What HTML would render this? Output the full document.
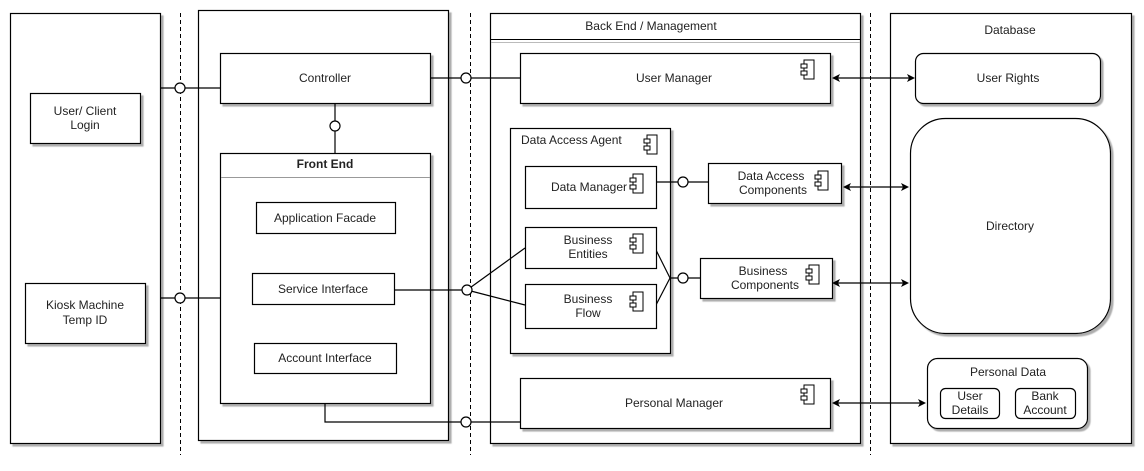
<!DOCTYPE html>
<html><head><meta charset="utf-8"><style>
html,body{margin:0;padding:0;background:#fff}
svg text{font-family:"Liberation Sans",Arial,sans-serif;font-size:12px;fill:#222}
</style></head><body>
<svg width="1144" height="466" viewBox="0 0 1144 466" xmlns="http://www.w3.org/2000/svg">
<defs>
<filter id="sh" x="-5%" y="-5%" width="110%" height="110%"><feDropShadow dx="2.5" dy="2.5" stdDeviation="0.6" flood-color="#999" flood-opacity="0.8"/></filter>
<g id="ic"><rect x="3" y="0" width="10" height="19" fill="#fff" stroke="#000"/><rect x="0" y="4" width="6" height="4" fill="#fff" stroke="#000"/><rect x="0" y="11" width="6" height="4" fill="#fff" stroke="#000"/></g>
</defs>
<g fill="#fff" stroke="#000" stroke-width="1.2" filter="url(#sh)">
<rect x="10.5" y="13.5" width="150" height="430"/>
<rect x="198.5" y="10.5" width="250" height="430"/>
<rect x="490.5" y="13.5" width="370" height="430"/>
<rect x="890.5" y="13.5" width="241" height="430"/>
</g>
<line x1="491" y1="39.5" x2="860" y2="39.5" stroke="#000"/>
<line x1="491" y1="42.5" x2="860" y2="42.5" stroke="#bbb"/>
<g stroke="#000" stroke-dasharray="4,3"><line x1="180.5" y1="13" x2="180.5" y2="455"/><line x1="470.5" y1="13" x2="470.5" y2="455"/><line x1="870.5" y1="13" x2="870.5" y2="455"/></g>
<!-- boxes -->
<g fill="#fff" stroke="#000" stroke-width="1.2" filter="url(#sh)">
<rect x="30.5" y="93.5" width="110" height="50"/>
<rect x="25.5" y="283.5" width="120" height="60"/>
<rect x="220.5" y="53.5" width="210" height="50"/>
<rect x="220.5" y="153.5" width="210" height="250"/>
<rect x="256.5" y="202.5" width="139" height="31"/>
<rect x="252.5" y="273.5" width="142" height="31"/>
<rect x="254.5" y="343.5" width="142" height="30"/>
<rect x="520.5" y="53.5" width="310" height="50"/>
<rect x="510.5" y="128.5" width="160" height="225"/>
<rect x="520.5" y="378.5" width="310" height="50"/>
<rect x="708.5" y="163.5" width="133" height="40"/>
<rect x="700.5" y="258.5" width="132" height="40"/>
<rect x="915.5" y="53.5" width="185" height="50" rx="8"/>
<rect x="910.5" y="118.5" width="200" height="215" rx="35"/>
<rect x="927.5" y="358.5" width="160" height="70" rx="10"/>
</g>
<!-- connectors -->
<g stroke="#000" fill="none" stroke-width="1.2">
<line x1="160" y1="88" x2="220" y2="88"/>
<line x1="160" y1="298" x2="220" y2="298"/>
<line x1="335" y1="103" x2="335" y2="153"/>
<line x1="430" y1="78" x2="520" y2="78"/>
<line x1="394" y1="290" x2="467" y2="290"/>
<line x1="467" y1="290" x2="525" y2="248"/>
<line x1="467" y1="290" x2="525" y2="305"/>
<line x1="656" y1="250" x2="670" y2="278"/>
<line x1="656" y1="305" x2="670" y2="278"/>
<line x1="670" y1="278" x2="700" y2="278"/>
<line x1="656" y1="182" x2="708" y2="182"/>
<polyline points="325,403 325,422 520,422"/>
<line x1="838" y1="78" x2="909" y2="78"/>
<line x1="849" y1="187" x2="903" y2="187"/>
<line x1="838" y1="283" x2="903" y2="283"/>
<line x1="838" y1="403" x2="920" y2="403"/>
</g>
<g fill="#000">
<polygon points="832,78 840,74 838,78 840,82"/><polygon points="915,78 907,74 909,78 907,82"/>
<polygon points="843,187 851,183 849,187 851,191"/><polygon points="909,187 901,183 903,187 901,191"/>
<polygon points="832,283 840,279 838,283 840,287"/><polygon points="909,283 901,279 903,283 901,287"/>
<polygon points="832,403 840,399 838,403 840,407"/><polygon points="926,403 918,399 920,403 918,407"/>
</g>
<g fill="#fff" stroke="#000" stroke-width="1.2">
<circle cx="180" cy="88" r="5"/><circle cx="180" cy="298" r="5"/><circle cx="335" cy="126" r="5"/>
<circle cx="466" cy="78" r="5"/><circle cx="467" cy="290" r="5"/><circle cx="466" cy="422" r="5"/>
<circle cx="683" cy="182" r="5"/><circle cx="683" cy="278" r="5"/>
</g>
<g fill="#fff" stroke="#000" stroke-width="1.2">
<rect x="525.5" y="166.5" width="131" height="42"/>
<rect x="525.5" y="227.5" width="131" height="41"/>
<rect x="525.5" y="284.5" width="131" height="44"/>
<rect x="940.5" y="388.5" width="59" height="30" rx="5"/>
<rect x="1015.5" y="388.5" width="60" height="30" rx="5"/>
</g>
<line x1="221" y1="177.5" x2="430" y2="177.5" stroke="#999"/>
<use href="#ic" x="801" y="60"/><use href="#ic" x="644" y="135"/><use href="#ic" x="630" y="174"/>
<use href="#ic" x="630" y="234"/><use href="#ic" x="630" y="292"/><use href="#ic" x="815" y="171"/>
<use href="#ic" x="806" y="265"/><use href="#ic" x="801" y="385"/>
<g text-anchor="middle">
<text x="651" y="30">Back End / Management</text>
<text x="1010" y="34">Database</text>
<text x="85" y="115">User/ Client</text><text x="85" y="129">Login</text>
<text x="85" y="309">Kiosk Machine</text><text x="85" y="324">Temp ID</text>
<text x="325" y="82">Controller</text>
<text x="325" y="168" font-weight="bold">Front End</text>
<text x="325" y="222">Application Facade</text>
<text x="323" y="293">Service Interface</text>
<text x="325" y="362">Account Interface</text>
<text x="674" y="82">User Manager</text>
<text x="589" y="191">Data Manager</text>
<text x="588" y="244">Business</text><text x="588" y="258">Entities</text>
<text x="588" y="303">Business</text><text x="588" y="317">Flow</text>
<text x="771" y="180">Data Access</text><text x="773" y="194">Components</text>
<text x="763" y="275">Business</text><text x="765" y="289">Components</text>
<text x="674" y="407">Personal Manager</text>
<text x="1008" y="82">User Rights</text>
<text x="1010" y="230">Directory</text>
<text x="1008" y="376">Personal Data</text>
<text x="970" y="400">User</text><text x="970" y="414">Details</text>
<text x="1045" y="400">Bank</text><text x="1045" y="414">Account</text>
</g>
<text x="521" y="144">Data Access Agent</text>
</svg>
</body></html>
